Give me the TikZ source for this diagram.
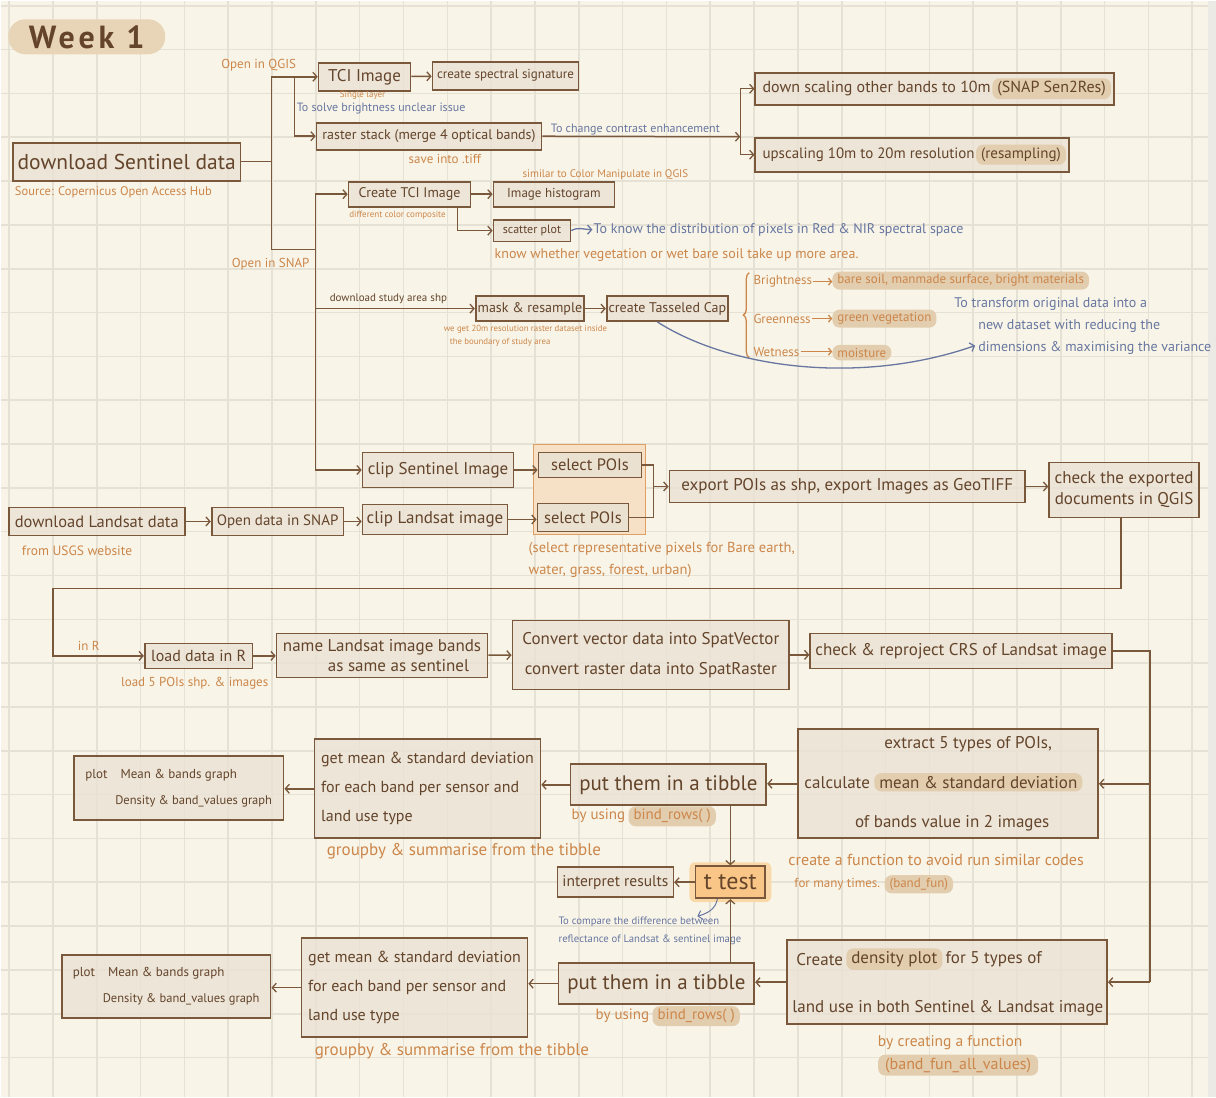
\documentclass[tikz,border=0pt]{standalone}
\usepackage{fontspec}
\setmainfont{PT Sans}
\usetikzlibrary{arrows.meta,positioning,decorations.pathreplacing}
\definecolor{paper}{RGB}{248,245,232}
\definecolor{gridc}{RGB}{229,225,212}
\definecolor{pageedge}{RGB}{236,234,228}
\definecolor{edge}{RGB}{122,88,60}
\definecolor{ink}{RGB}{100,68,42}
\definecolor{boxfill}{RGB}{233,226,212}
\definecolor{orangeink}{RGB}{204,134,74}
\definecolor{blueink}{RGB}{104,118,160}
\definecolor{pillc}{RGB}{226,205,175}
\definecolor{titlec}{RGB}{232,212,182}
\definecolor{grpline}{RGB}{222,160,100}
\definecolor{grpfill}{RGB}{246,224,198}
\definecolor{tfill}{RGB}{250,198,135}
\definecolor{tglowc}{RGB}{250,216,168}
\newcommand{\fsz}[2]{\fontsize{#1}{#2}\selectfont}
\begin{document}
\begin{tikzpicture}[x=1pt, y=-1pt,
  box/.style={draw=edge, line width=1.7pt, fill=boxfill, fill opacity=0.8, text opacity=1, text=ink, inner sep=2pt, align=center, font=\fsz{13}{16}},
  txt/.style={text=ink, inner sep=1pt, font=\fsz{13}{16}},
  pill/.style={fill=pillc, rounded corners=7pt, text=ink, inner xsep=5pt, inner ysep=3pt, font=\fsz{13}{16}},
  opill/.style={pill, text=orangeink, font=\fsz{13}{15}},
  note/.style={text=orangeink, inner sep=1pt, align=left, font=\fsz{13}{15}},
  bnote/.style={text=blueink, inner sep=1pt, align=left, font=\fsz{12}{14}},
  link/.style={draw=edge, line width=1.5pt},
  arrow/.style={link, -{Straight Barb[length=4pt, width=9pt, line width=1.3pt]}},
  barrow/.style={draw=blueink, line width=1.3pt, -{Straight Barb[length=4pt, width=9pt]}},
  oarrow/.style={draw=orangeink, line width=1.3pt, -{Straight Barb[length=3pt, width=7pt]}},
  gridline/.style={draw=gridc, line width=1.6pt}
]
% paper
\fill[paper] (0,0) rectangle (1216,1097);
\fill[pageedge] (1208,0) rectangle (1216,1097);
\foreach \i in {0,...,27}
  \draw[gridline] ({8.3+43.85*\i},0) -- ({8.3+43.85*\i},1097);
\foreach \j in {0,...,24}
  \draw[gridline] (0,{5+43.85*\j}) -- (1208,{5+43.85*\j});
\useasboundingbox (0,0) rectangle (1216,1097);

\node[fill=titlec, rounded corners=17pt, minimum width=157pt, minimum height=35pt] (week) at (86,36) {};
\node[anchor=west, text=ink, inner sep=0pt, font=\fsz{32}{34}\bfseries\addfontfeatures{LetterSpace=12}] (weekt) at (28,37) {Week 1};

% Sentinel, QGIS branch
\node[box, minimum width=228pt, minimum height=38pt, font=\fsz{21.5}{24}] (dls) at (126,161) {download Sentinel data};
\node[note, anchor=west, font=\fsz{12.5}{15}] (dlsn) at (13,192) {Source: Copernicus Open Access Hub};
\node[note] (qgis) at (258,64) {Open in QGIS};
\node[note] (snap) at (270,264) {Open in SNAP};
\node[box, minimum width=92pt, minimum height=28pt, font=\fsz{17}{19}] (tci) at (364,76) {TCI Image};
\node[note, font=\fsz{9}{11}] (tcin) at (362,95) {Single layer};
\node[box, minimum width=146pt, minimum height=28pt, font=\fsz{13}{15}] (sig) at (505,75) {create spectral signature};
\node[bnote, anchor=west] (tcib) at (295,108) {To solve brightness unclear issue};
\node[box, minimum width=225pt, minimum height=27pt, font=\fsz{14}{16}] (stack) at (428.5,135.5) {raster stack (merge 4 optical bands)};
\node[note, anchor=west] (stackn) at (407,158) {save into .tiff};
\node[bnote] (contrast) at (635,129) {To change contrast enhancement};
\node[box, minimum width=359pt, minimum height=32pt] (down) at (934.5,88) {};
\node[txt, anchor=west, font=\fsz{16}{18}] (downa) at (761,88) {down scaling other bands to 10m};
\node[pill, anchor=east, font=\fsz{16}{18}] (downb) at (1111,88) {(SNAP Sen2Res)};
\node[box, minimum width=314pt, minimum height=34pt] (up) at (912,154) {};
\node[txt, anchor=west, font=\fsz{15}{17}] (upa) at (761,154) {upscaling 10m to 20m resolution};
\node[pill, anchor=east, font=\fsz{15}{17}] (upb) at (1066,154) {(resampling)};

\coordinate (j1) at (271,161);
\coordinate (j2) at (294,76);
\coordinate (j3) at (315,249);
\coordinate (j5) at (740,136);
\draw[link] (dls.east) -- (j1) |- (j3);
\draw[arrow] (j1) |- (tci.west);
\draw[arrow] (j2) |- (stack.west);
\draw[arrow] (tci) -- (sig);
\draw[arrow] (stack.east) -- (j5);
\draw[arrow] (j5) |- (down.west);
\draw[arrow] (j5) |- (up.west);

% SNAP branch
\node[box, minimum width=122pt, minimum height=25pt, font=\fsz{14}{16}] (ctci) at (409,193.5) {Create TCI Image};
\node[note, font=\fsz{9}{11}] (ctcin) at (397,215) {different color composite};
\node[box, minimum width=121pt, minimum height=25pt] (hist) at (553.5,193.5) {Image histogram};
\node[note, font=\fsz{11}{13}] (histn) at (605,174) {similar to Color Manipulate in QGIS};
\node[box, minimum width=77pt, minimum height=22pt, font=\fsz{12}{14}] (scat) at (531.5,230) {scatter plot};
\node[bnote, anchor=west, font=\fsz{14}{16}] (scatb) at (592,229) {To know the distribution of pixels in Red \& NIR spectral space};
\node[note, anchor=west, font=\fsz{14}{16}] (scatn) at (493,254) {know whether vegetation or wet bare soil take up more area.};
\draw[arrow] (j3) |- (ctci.west);
\draw[arrow] (ctci) -- (hist);
\draw[arrow] ([xshift=48pt]ctci.south) |- (scat.west);
\draw[barrow] (scat.east) to[out=30, in=180] (scatb.west);

% Tasseled Cap
\node[txt, anchor=west, font=\fsz{11}{13}] (shp) at (328,298) {download study area shp};
\node[box, minimum width=107pt, minimum height=25pt, font=\fsz{14}{16}] (mask) at (529.5,308) {mask \& resample};
\node[note, font=\fsz{8.8}{13}] (maskn) at (525,335) {we get 20m resolution raster dataset inside\\\hspace*{6pt}the boundary of study area};
\node[box, minimum width=120pt, minimum height=25pt, font=\fsz{14}{16}] (tcap) at (667,308) {create Tasseled Cap};
\draw[arrow] (j3 |- mask.west) -- (mask.west);
\draw[arrow] (mask) -- (tcap);
\draw[draw=orangeink, line width=1.3pt, decorate, decoration={brace, amplitude=6pt}] (749,357) -- (749,272);
\node[note, anchor=west] (bri) at (752,281) {Brightness};
\node[note, anchor=west] (gre) at (752,318) {Greenness};
\node[note, anchor=west] (wet) at (752,351) {Wetness};
\node[opill, anchor=west] (brip) at (832,280) {bare soil, manmade surface, bright materials};
\node[opill, anchor=west] (grep) at (832,318) {green vegetation};
\node[opill, anchor=west] (wetp) at (832,352) {moisture};
\draw[oarrow] (bri.east) -- (bri.east -| brip.west);
\draw[oarrow] (gre.east) -- (gre.east -| grep.west);
\draw[oarrow] (wet.east) -- (wet.east -| wetp.west);
\node[bnote, anchor=north west, font=\fsz{14}{22}] (pca) at (953,296) {To transform original data into a\\\hspace*{24pt}new dataset with reducing the\\\hspace*{24pt}dimensions \& maximising the variance};
\coordinate (pcatip) at (975,345);
\draw[barrow] ([xshift=-10pt]tcap.south) .. controls (730,368) and (860,385) .. (pcatip);

% POIs
\node[fill=grpfill, draw=grpline, line width=1.5pt, minimum width=112pt, minimum height=90pt] (poigrp) at (589,489) {};
\node[box, minimum width=151pt, minimum height=35pt, font=\fsz{17}{19}] (clips) at (437.5,469.5) {clip Sentinel Image};
\node[box, minimum width=103pt, minimum height=25pt, font=\fsz{16.5}{18}] (sela) at (589.5,464.5) {select POIs};
\node[box, minimum width=176pt, minimum height=28pt, font=\fsz{16.5}{18}] (dll) at (96,521) {download Landsat data};
\node[note, anchor=west, font=\fsz{13.5}{15}] (dlln) at (20,550) {from USGS website};
\node[box, minimum width=132pt, minimum height=28pt, font=\fsz{15}{17}] (opsnap) at (277,521) {Open data in SNAP};
\node[box, minimum width=145pt, minimum height=30pt, font=\fsz{17}{19}] (clipl) at (434.5,519) {clip Landsat image};
\node[box, minimum width=91pt, minimum height=28pt, font=\fsz{16.5}{18}] (selb) at (582.5,517) {select POIs};
\node[box, minimum width=356pt, minimum height=32pt, font=\fsz{17}{19}] (export) at (847,486) {export POIs as shp, export Images as GeoTIFF};
\node[box, minimum width=150pt, minimum height=55pt, font=\fsz{17}{21}] (check) at (1124,489.5) {check the exported\\documents in QGIS};
\node[note, anchor=west, font=\fsz{14.5}{22}] (seln) at (527,559) {(select representative pixels for Bare earth,\\water, grass, forest, urban)};
\coordinate (j6) at (653,486);
\draw[arrow] (j3) |- (clips.west);
\draw[arrow] (dll) -- (opsnap);
\draw[arrow] (opsnap.east) -- (opsnap.east -| clipl.west);
\draw[arrow] (clips.east) -- (clips.east -| sela.west);
\draw[arrow] (clipl.east) -- (clipl.east -| selb.west);
\draw[link] (sela.east) -| (j6);
\draw[link] (selb.east) -| (j6);
\draw[arrow] (j6) -- (export.west);
\draw[arrow] (export.east) -- (export.east -| check.west);

% R
\coordinate (r1) at (52,588);
\node[note] (inr) at (88,646) {in R};
\node[box, minimum width=108pt, minimum height=25pt, font=\fsz{16}{18}] (load) at (198,655.5) {load data in R};
\node[note] (loadn) at (194,683) {load 5 POIs shp. \& images};
\node[box, minimum width=211pt, minimum height=44pt, align=left, font=\fsz{17}{20}] (name) at (381.5,655) {name Landsat image bands\\\hspace*{45pt}as same as sentinel};
\node[box, minimum width=277pt, minimum height=69pt, font=\fsz{17}{30}] (conv) at (650.5,654.5) {Convert vector data into SpatVector\\convert raster data into SpatRaster};
\node[box, minimum width=302pt, minimum height=35pt, font=\fsz{17}{19}] (crs) at (961,650.5) {check \& reproject CRS of Landsat image};
\draw[arrow] ([xshift=-3pt]check.south) |- (r1) |- (load.west);
\draw[arrow] (load.east) -- (load.east -| name.west);
\draw[arrow] (name) -- (conv);
\draw[arrow] (conv.east) -- (conv.east -| crs.west);

% extract and t test
\node[box, minimum width=300pt, minimum height=109pt] (ext) at (948,783.5) {};
\node[txt, font=\fsz{17}{19}] (exta) at (968,744) {extract 5 types of POIs,};
\node[txt, anchor=west, font=\fsz{17}{19}] (extb) at (803,782) {calculate};
\node[pill, right=3pt of extb, font=\fsz{17}{19}] (extc) {mean \& standard deviation};
\node[txt, font=\fsz{17}{19}] (extd) at (952,823) {of bands value in 2 images};
\node[note, anchor=west, font=\fsz{16}{18}] (extn) at (787,860) {create a function to avoid run similar codes};
\node[note, anchor=west] (extm) at (793,884) {for many times.};
\node[opill, right=3pt of extm] (extp) {(band\_fun)};
\node[box, minimum width=196pt, minimum height=41pt, font=\fsz{21}{23}] (tiba) at (668,784.5) {put them in a tibble};
\node[note, anchor=west, font=\fsz{15}{17}] (tiban) at (570,816) {by using};
\node[opill, right=2pt of tiban, font=\fsz{15}{17}] (tibap) {bind\_rows( )};
\node[box, minimum width=226pt, minimum height=99pt, align=left, font=\fsz{16}{29}] (gma) at (427,788.5) {get mean \& standard deviation\\for each band per sensor and\\land use type};
\node[note, anchor=west, font=\fsz{17}{19}] (gman) at (325,851) {groupby \& summarise from the tibble};
\node[box, minimum width=210pt, minimum height=64pt, align=left, font=\fsz{13}{26}] (plota) at (178,788) {plot\quad Mean \& bands graph\\\hspace*{30pt}{\fsz{12.5}{26}Density \& band\_values graph}};
\draw[arrow] (ext.west) -- (ext.west -| tiba.east);
\draw[arrow] (tiba.west) -- (tiba.west -| gma.east);
\draw[arrow] (gma.west) -- (gma.west -| plota.east);

\node[fill=tglowc, rounded corners=6pt, minimum width=82pt, minimum height=40pt] (tglow) at (730,882) {};
\node[box, fill=tfill, fill opacity=1, minimum width=70pt, minimum height=32pt, font=\fsz{24}{26}] (ttest) at (730,882) {t test};
\node[box, minimum width=116pt, minimum height=30pt, font=\fsz{15.5}{17}] (interp) at (615,882) {interpret results};
\node[bnote, anchor=west, font=\fsz{10.7}{18}] (cmp) at (557,931) {To compare the difference between\\reflectance of Landsat \& sentinel image};
\coordinate (cmptip) at (697,916);
\draw[arrow] (ttest) -- (interp);
\draw[arrow] (tiba.south -| ttest.north) -- (ttest.north);
\draw[barrow, line width=1pt] ([xshift=-13pt]ttest.south) to[out=-100, in=15] (cmptip);

% density plot
\node[box, minimum width=196pt, minimum height=41pt, font=\fsz{21}{23}] (tibb) at (656,983.5) {put them in a tibble};
\node[note, anchor=west, font=\fsz{15}{17}] (tibbn) at (594,1016) {by using};
\node[opill, right=2pt of tibbn, font=\fsz{15}{17}] (tibbp) {bind\_rows( )};
\node[box, minimum width=320pt, minimum height=84pt] (dens) at (947,982) {};
\node[txt, anchor=west, font=\fsz{17}{19}] (densa) at (795,959) {Create};
\node[pill, right=2pt of densa, font=\fsz{17}{19}] (densb) {density plot};
\node[txt, right=2pt of densb, font=\fsz{17}{19}] (densc) {for 5 types of};
\node[txt, anchor=west, font=\fsz{17}{19}] (densd) at (791,1008) {land use in both Sentinel \& Landsat image};
\node[note, font=\fsz{15.5}{17}] (densn) at (950,1043) {by creating a function};
\node[opill, font=\fsz{16}{18}, inner xsep=7pt] (densp) at (958,1065) {(band\_fun\_all\_values)};
\node[box, minimum width=226pt, minimum height=99pt, align=left, font=\fsz{16}{29}] (gmb) at (414,987.5) {get mean \& standard deviation\\for each band per sensor and\\land use type};
\node[note, anchor=west, font=\fsz{17}{19}] (gmbn) at (313,1051) {groupby \& summarise from the tibble};
\node[box, minimum width=209pt, minimum height=63pt, align=left, font=\fsz{13}{26}] (plotb) at (165.5,986.5) {plot\quad Mean \& bands graph\\\hspace*{30pt}{\fsz{12.5}{26}Density \& band\_values graph}};
\coordinate (r2) at (1150,982);
\draw[link] (crs.east) -| (r2);
\draw[arrow] (r2) -- (dens.east);
\draw[arrow] (r2 |- ext.east) -- (ext.east);
\draw[arrow] (tibb.north -| ttest.south) -- (ttest.south);
\draw[arrow] (dens.west) -- (dens.west -| tibb.east);
\draw[arrow] (tibb.west) -- (tibb.west -| gmb.east);
\draw[arrow] (gmb.west) -- (gmb.west -| plotb.east);
\end{tikzpicture}
\end{document}
